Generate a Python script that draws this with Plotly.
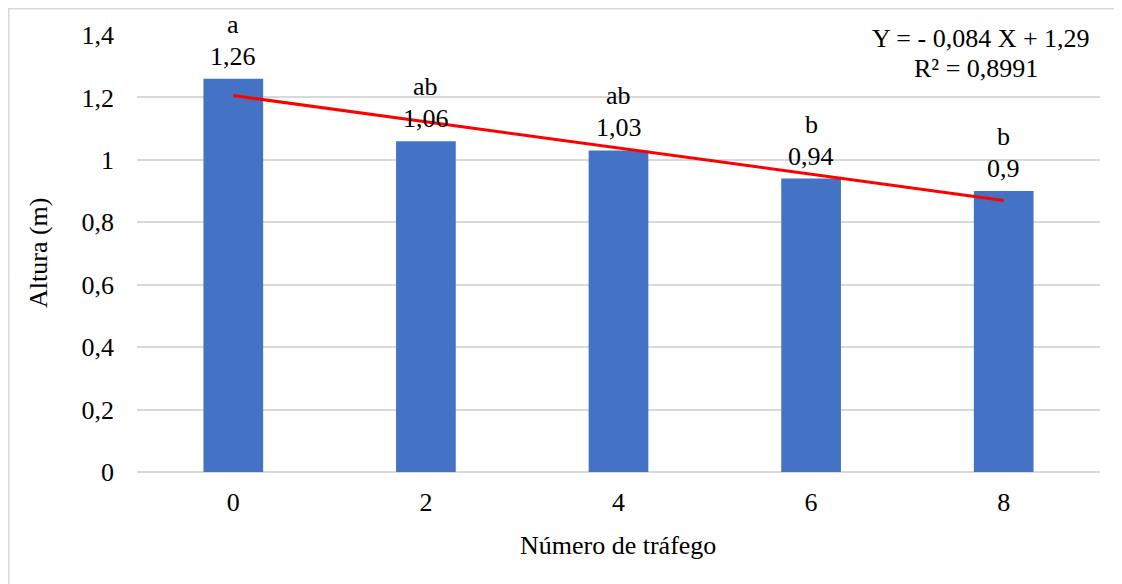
import numpy as np
import plotly.graph_objects as go

categories = ["0", "2", "4", "6", "8"]
values = [1.26, 1.06, 1.03, 0.94, 0.90]
letters = ["a", "ab", "ab", "b", "b"]
y_ticks = [0, 0.2, 0.4, 0.6, 0.8, 1.0, 1.2, 1.4]
y_tick_labels = ["0", "0,2", "0,4", "0,6", "0,8", "1", "1,2", "1,4"]

# Linear trend fitted on category order (X = 1..5)
idx = np.arange(1, len(values) + 1)
slope, intercept = np.polyfit(idx, values, 1)
trend = slope * idx + intercept
r2 = np.corrcoef(idx, values)[0, 1] ** 2

FONT = "Liberation Serif, Times New Roman, serif"
FS = 26
OFF = 8  # page offset of the figure (body margin)
W, H = 1122, 584
ML, MR, MT, MB = 129, 30, 27, 120
PW, PH = W - ML - MR, H - MT - MB

def px_x(p):
    return (p - OFF - ML) / PW

def px_y(p):
    return (H - MB - (p - OFF)) / PH

fig = go.Figure()
fig.add_trace(go.Bar(x=categories, y=values, marker_color="#4472c4",
                     marker_line_width=0, width=0.31, showlegend=False))
fig.add_trace(go.Scatter(x=categories, y=trend, mode="lines",
                         line=dict(color="#ff0000", width=3), showlegend=False))

def fmt(v):
    s = ("%.2f" % v).rstrip("0").rstrip(".")
    return s.replace(".", ",")

txtfont = dict(family=FONT, size=FS, color="#000000")
for i, (v, l) in enumerate(zip(values, letters)):
    fig.add_annotation(x=i, y=v, text=fmt(v), showarrow=False,
                       yanchor="bottom", yshift=6, font=txtfont)
    fig.add_annotation(x=i, y=v, text=l, showarrow=False,
                       yanchor="bottom", yshift=38, font=txtfont)

eq1 = f"Y = - {abs(slope):.3f} X + {intercept:.2f}".replace(".", ",")
eq2 = f"R² = {r2:.4f}".replace(".", ",")
fig.add_annotation(xref="paper", yref="paper", x=px_x(981), y=px_y(39),
                   xanchor="center", yanchor="middle", text=eq1,
                   showarrow=False, bgcolor="#ffffff", font=txtfont)
fig.add_annotation(xref="paper", yref="paper", x=px_x(976), y=px_y(69),
                   xanchor="center", yanchor="middle", text=eq2,
                   showarrow=False, bgcolor="#ffffff", font=txtfont)

fig.add_annotation(xref="paper", yref="paper", x=px_x(618), y=px_y(545),
                   text="Número de tráfego", showarrow=False,
                   xanchor="center", yanchor="middle", font=txtfont)
fig.add_annotation(xref="paper", yref="paper", x=px_x(39), y=px_y(253),
                   text="Altura (m)", showarrow=False, textangle=-90,
                   xanchor="center", yanchor="middle", font=txtfont)

fig.add_shape(type="rect", xref="paper", yref="paper",
              x0=px_x(8.75), x1=px_x(1140), y0=px_y(620), y1=px_y(8.75),
              line=dict(color="#d9d9d9", width=1.5), layer="below")

fig.update_layout(
    width=W, height=H,
    margin=dict(l=ML, r=MR, t=MT, b=MB),
    paper_bgcolor="#ffffff", plot_bgcolor="#ffffff",
    bargap=0.69,
    font=dict(family=FONT, size=FS, color="#000000"),
    xaxis=dict(type="category", showgrid=False, showline=False, ticks="",
               range=[-0.5, 4.5],
               ticklabelstandoff=12, tickfont=dict(family=FONT, size=FS)),
    yaxis=dict(range=[0, 1.4], tickvals=y_ticks, ticktext=y_tick_labels,
               showgrid=True, gridcolor="#d9d9d9", gridwidth=1.5,
               zeroline=True, zerolinecolor="#d9d9d9", zerolinewidth=1.5,
               showline=False, ticks="", ticklabelstandoff=22,
               tickfont=dict(family=FONT, size=FS)),
)

fig.write_html("out.html")
